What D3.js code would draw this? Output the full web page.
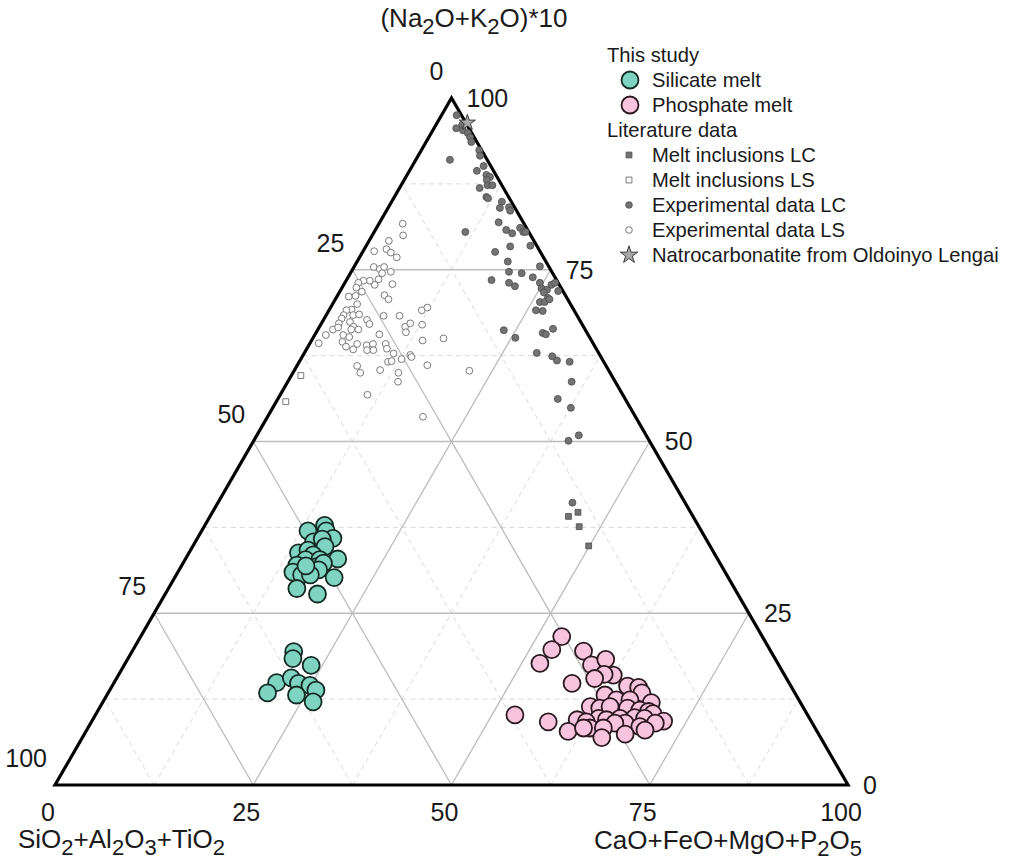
<!DOCTYPE html>
<html><head><meta charset="utf-8">
<script src="https://cdn.jsdelivr.net/npm/d3@7"></script>
<style>body{margin:0;background:#fff}svg{display:block}text{font-family:"Liberation Sans",Arial,sans-serif;fill:#1a1a1a}</style>
</head><body>
<svg id="c" width="1011" height="865"></svg>
<script>
// Ternary data as [CaO+FeO+MgO+P2O5, (Na2O+K2O)*10]; SiO2+Al2O3+TiO2 is the remainder to 100
const ticks = [0, 25, 50, 75, 100];
const gridMajor = [25, 50, 75];
const gridMinor = [12.5, 37.5, 62.5, 87.5];

const silicate = [
[13.4,37.0],[15.1,37.8],[15.7,37.0],[17.1,35.9],[14.9,35.4],[15.8,35.8],[16.7,34.7],[13.8,33.8],
[14.8,34.2],[15.8,33.5],[15.2,32.8],[17.0,32.8],[19.2,32.9],[14.5,32.0],[14.5,31.0],[15.8,30.6],
[16.7,31.4],[17.1,31.8],[17.7,32.3],[20.1,30.2],[16.2,28.6],[19.2,27.8],[17.6,31.3],[16.9,30.6],[15.7,31.9],
[20.4,19.4],[20.8,18.4],[23.6,17.4],[20.5,14.9],[20.1,13.4],[22.0,15.6],[23.3,14.8],[24.9,14.5],
[26.0,13.8],[23.9,13.1],[26.5,12.1]
];
const phosphate = [
[53.1,21.6],[52.8,19.7],[52.3,17.7],[56.9,19.5],[58.9,17.5],[60.3,18.3],[62.4,16.0],[61.2,16.1],
[60.3,15.5],[57.8,14.8],[65.0,14.4],[66.5,14.2],[67.3,13.4],[62.8,13.1],[64.6,12.4],[66.3,12.4],
[69.2,12.0],[61.8,11.4],[63.1,11.2],[64.3,11.4],[66.6,11.2],[68.3,10.9],[69.5,10.7],[70.2,10.4],
[52.9,10.2],[57.6,9.2],[61.1,9.5],[63.7,9.7],[62.4,9.2],[64.8,9.5],[66.4,9.7],[68.2,9.8],
[69.5,9.7],[72.1,9.3],[67.4,9.0],[66.1,9.0],[63.3,8.3],[60.8,7.8],[65.0,8.3],[69.5,8.5],
[71.2,9.0],[65.5,6.9],[68.2,7.4],[70.4,8.0],[62.5,8.3]
];
const meltInclLC = [[46.1,39.7],[45.2,39.1],[47.3,37.6],[49.9,34.8]];
const meltInclLS = [[1.2,59.6],[1.2,55.8]];
const expLC = [
[1.9,97.5],[2.8,95.6],[3.3,96.1],[3.8,95.3],[4.6,94.9],[5.2,94.3],[5.7,93.6],[4.3,91.0],
[7.3,92.4],[7.8,91.6],[9.0,90.1],[8.5,89.4],[10.0,88.8],[10.6,88.5],[10.4,88.1],[10.9,87.3],
[11.5,87.3],[10.1,86.9],[11.6,85.6],[11.9,85.4],[13.9,84.9],[14.1,84.0],[15.2,84.1],[15.6,83.6],
[15.0,81.9],[16.5,80.8],[17.5,80.3],[18.1,81.1],[18.8,80.5],[19.1,80.5],[11.5,80.5],[20.7,78.5],
[18.2,78.4],[16.7,77.6],[19.0,76.2],[23.4,75.5],[19.9,74.7],[21.6,74.5],[23.3,73.9],[18.3,73.5],
[20.7,73.1],[21.7,72.6],[24.6,73.1],[26.2,72.8],[26.5,73.1],[25.2,72.3],[26.0,72.1],[25.8,71.7],
[27.5,71.9],[26.7,70.9],[26.0,70.3],[26.6,70.3],[27.0,70.7],[26.1,69.1],[27.0,69.0],[23.5,66.2],
[25.5,65.1],[28.6,65.8],[29.1,65.6],[29.6,66.4],[29.3,62.9],[31.5,62.4],[32.4,61.8],[34.1,61.6],
[35.8,58.7],[35.3,56.2],[37.6,54.9],[40.6,50.9],[39.7,50.1],[44.7,41.1]
];
const expLS = [
[3.0,81.7],[3.9,80.0],[2.5,79.2],[1.4,77.7],[2.8,78.0],[3.6,77.5],[4.7,76.8],[2.5,75.4],
[3.4,75.1],[3.8,75.4],[5.0,74.7],[4.0,74.5],[4.0,73.6],[3.9,72.8],[3.0,73.4],[2.2,73.4],
[1.7,73.1],[1.8,72.4],[2.8,71.8],[6.1,72.9],[5.9,71.3],[6.7,70.7],[1.5,71.1],[2.3,71.2],
[3.1,70.0],[2.8,69.2],[2.2,69.1],[2.2,68.4],[3.4,68.4],[4.1,68.5],[2.2,67.9],[2.2,67.2],
[3.5,67.4],[5.5,67.7],[6.1,67.1],[7.3,68.3],[9.3,68.3],[11.7,69.1],[12.2,69.5],[1.9,66.3],
[2.4,66.6],[4.3,66.7],[5.1,66.3],[4.2,66.3],[1.4,65.5],[3.6,65.5],[4.5,65.2],[4.0,64.5],
[4.8,63.8],[5.9,63.4],[6.0,64.2],[7.3,64.0],[7.7,63.3],[8.0,64.2],[8.5,63.3],[8.1,65.6],
[9.6,64.2],[10.1,63.5],[11.3,62.8],[10.8,66.7],[11.2,67.2],[11.3,65.9],[12.8,67.0],[14.0,64.7],
[16.5,65.0],[12.7,62.0],[13.5,62.6],[13.8,62.3],[11.2,61.6],[11.6,61.7],[16.4,61.1],[7.6,61.0],
[8.5,60.0],[10.8,60.4],[13.3,60.0],[13.9,58.7],[22.1,60.3],[11.0,56.8],[19.6,53.6],[1.1,64.3]
];
const natrocarbonatite = [[3.8,96.4]];

const legendHeaders = ["This study", "Literature data"];
const legendItems = ["Silicate melt","Phosphate melt","Melt inclusions LC","Melt inclusions LS",
  "Experimental data LC","Experimental data LS","Natrocarbonatite from Oldoinyo Lengai"];

const svg = d3.select("#c");
const xS = d3.scaleLinear().domain([0,100]).range([55,848]);
const yS = d3.scaleLinear().domain([0,100]).range([785,98]);
function proj(a,b,c){ const s=a+b+c; b=b/s*100; c=c/s*100; return [xS(b + c/2), yS(c)]; }
const toT = d => ({a:100-d[0]-d[1], b:d[0], c:d[1]});
const P = t => proj(t.a,t.b,t.c);

// grid
const gridG = svg.append("g");
function gridLines(v){
  return [
    [P({a:100-v,b:0,c:v}), P({a:0,b:100-v,c:v})],
    [P({a:100-v,b:v,c:0}), P({a:0,b:v,c:100-v})],
    [P({a:v,b:100-v,c:0}), P({a:v,b:0,c:100-v})]
  ];
}
gridMinor.forEach(v => gridLines(v).forEach(l => gridG.append("line")
  .attr("x1",l[0][0]).attr("y1",l[0][1]).attr("x2",l[1][0]).attr("y2",l[1][1])
  .attr("stroke","#d9d9d9").attr("stroke-width",1).attr("stroke-dasharray","5,4")));
gridMajor.forEach(v => gridLines(v).forEach(l => gridG.append("line")
  .attr("x1",l[0][0]).attr("y1",l[0][1]).attr("x2",l[1][0]).attr("y2",l[1][1])
  .attr("stroke","#bdbdbd").attr("stroke-width",1.3)));

// border
const V = [P({a:100,b:0,c:0}), P({a:0,b:100,c:0}), P({a:0,b:0,c:100})];
svg.append("path").attr("d","M"+V.map(p=>p.join(",")).join("L")+"Z")
  .attr("fill","none").attr("stroke","#000").attr("stroke-width",3.2).attr("stroke-linejoin","miter");

// tick labels
const tg = svg.append("g").style("font-size","25px");
ticks.forEach(v => {
  const pl = P({a:v,b:0,c:100-v});
  tg.append("text").attr("x",pl[0]-8).attr("y",pl[1]-27).attr("dy","0.35em").attr("text-anchor","end").text(v);
  const pr = P({a:0,b:100-v,c:v});
  tg.append("text").attr("x",pr[0]+15).attr("y",pr[1]).attr("dy","0.35em").attr("text-anchor","start").text(v);
  const pb = P({a:100-v,b:v,c:0});
  tg.append("text").attr("x",pb[0]-7).attr("y",pb[1]+27).attr("dy","0.35em").attr("text-anchor","middle").text(v);
});

// axis titles with subscripts
function richText(x,y,anchor,parts){
  const t = svg.append("text").attr("x",x).attr("y",y).attr("text-anchor",anchor).style("font-size","26px");
  let sub=false;
  parts.forEach(p => {
    if (p.sub){ t.append("tspan").attr("dy",sub?0:7).style("font-size","22px").text(p.s); sub=true; }
    else { t.append("tspan").attr("dy",sub?-7:0).text(p.s); sub=false; }
  });
  return t;
}
richText(474,27,"middle",[{s:"(Na"},{s:"2",sub:1},{s:"O+K"},{s:"2",sub:1},{s:"O)*10"}]);
richText(18,848,"start",[{s:"SiO"},{s:"2",sub:1},{s:"+Al"},{s:"2",sub:1},{s:"O"},{s:"3",sub:1},{s:"+TiO"},{s:"2",sub:1}]);
richText(862,849,"end",[{s:"CaO+FeO+MgO+P"},{s:"2",sub:1},{s:"O"},{s:"5",sub:1}]);

// data marks
const dg = svg.append("g");
const sqr = d3.symbol().type(d3.symbolSquare).size(34);
const star = d3.symbol().type(d3.symbolStar).size(80);
dg.selectAll(".ls").data(expLS.map(toT)).join("circle")
  .attr("cx",d=>P(d)[0]).attr("cy",d=>P(d)[1]).attr("r",3.4)
  .attr("fill","#fff").attr("stroke","#7a7a7a").attr("stroke-width",1);
dg.selectAll(".mls").data(meltInclLS.map(toT)).join("path")
  .attr("d",sqr).attr("transform",d=>`translate(${P(d)})`)
  .attr("fill","#fff").attr("stroke","#7a7a7a").attr("stroke-width",1);
dg.selectAll(".lc").data(expLC.map(toT)).join("circle")
  .attr("cx",d=>P(d)[0]).attr("cy",d=>P(d)[1]).attr("r",3.5)
  .attr("fill","#737373").attr("stroke","#4d4d4d").attr("stroke-width",0.8);
dg.selectAll(".mlc").data(meltInclLC.map(toT)).join("path")
  .attr("d",sqr).attr("transform",d=>`translate(${P(d)})`)
  .attr("fill","#737373").attr("stroke","#4d4d4d").attr("stroke-width",0.8);
dg.selectAll(".nat").data(natrocarbonatite.map(toT)).join("path")
  .attr("d",star).attr("transform",d=>`translate(${P(d)})`)
  .attr("fill","#a8a8a8").attr("stroke","#3a3a3a").attr("stroke-width",1);
dg.selectAll(".sil").data(silicate.map(toT)).join("circle")
  .attr("cx",d=>P(d)[0]).attr("cy",d=>P(d)[1]).attr("r",8.5)
  .attr("fill","#7fd4c1").attr("stroke","#142b25").attr("stroke-width",1.8);
dg.selectAll(".pho").data(phosphate.map(toT)).join("circle")
  .attr("cx",d=>P(d)[0]).attr("cy",d=>P(d)[1]).attr("r",8.5)
  .attr("fill","#f8c3dd").attr("stroke","#2b1820").attr("stroke-width",1.8);

// legend
const lg = svg.append("g").style("font-size","20.2px");
const ly = d3.scaleLinear().domain([0,1]).range([55,80]);
lg.append("text").attr("x",607).attr("y",ly(0)).attr("dy","0.35em").text(legendHeaders[0]);
lg.append("text").attr("x",607).attr("y",ly(3)).attr("dy","0.35em").text(legendHeaders[1]);
const rows = [1,2,4,5,6,7,8];
legendItems.forEach((s,i) => {
  lg.append("text").attr("x",652).attr("y",ly(rows[i])).attr("dy","0.35em").text(s);
});
lg.append("circle").attr("cx",630).attr("cy",ly(1)).attr("r",8.5).attr("fill","#7fd4c1").attr("stroke","#142b25").attr("stroke-width",1.8);
lg.append("circle").attr("cx",630).attr("cy",ly(2)).attr("r",8.5).attr("fill","#f8c3dd").attr("stroke","#2b1820").attr("stroke-width",1.8);
lg.append("path").attr("d",sqr).attr("transform",`translate(629,${ly(4)})`).attr("fill","#737373").attr("stroke","#4d4d4d").attr("stroke-width",0.8);
lg.append("path").attr("d",sqr).attr("transform",`translate(629,${ly(5)})`).attr("fill","#fff").attr("stroke","#7a7a7a").attr("stroke-width",1);
lg.append("circle").attr("cx",629).attr("cy",ly(6)).attr("r",3.3).attr("fill","#737373").attr("stroke","#4d4d4d").attr("stroke-width",0.8);
lg.append("circle").attr("cx",629).attr("cy",ly(7)).attr("r",3.3).attr("fill","#fff").attr("stroke","#7a7a7a").attr("stroke-width",1);
lg.append("path").attr("d",d3.symbol().type(d3.symbolStar).size(95)).attr("transform",`translate(629,${ly(8)})`).attr("fill","#a8a8a8").attr("stroke","#3a3a3a").attr("stroke-width",1);
</script>
</body></html>
